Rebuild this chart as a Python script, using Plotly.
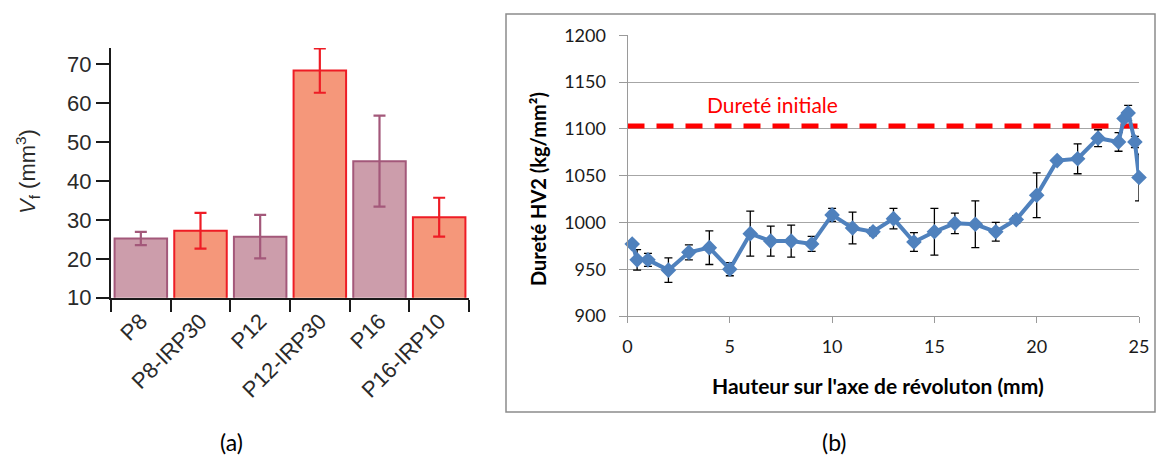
import plotly.graph_objects as go

# ---------------- data (a) ----------------
categories = ["P8", "P8-IRP30", "P12", "P12-IRP30", "P16", "P16-IRP10"]
vf_values = [25.2, 27.2, 25.7, 68.4, 45.1, 30.7]
vf_errors = [1.7, 4.6, 5.6, 5.7, 11.7, 5.0]
is_irp = [False, True, False, True, False, True]

# ---------------- data (b) ----------------
hauteur = [0.23, 0.47, 1.0, 2.0, 3.0, 4.0, 5.0, 6.0, 7.0, 8.0, 9.0, 10.0, 11.0, 12.0,
           13.0, 14.0, 15.0, 16.0, 17.0, 18.0, 19.0, 20.0, 21.0, 22.0, 23.0, 24.0,
           24.27, 24.47, 24.8, 25.0]
durete = [977, 960, 960, 949, 968, 973, 950, 988, 980, 980, 977, 1008, 994, 990,
          1004, 979, 990, 999, 998, 990, 1003, 1029, 1066, 1068, 1090, 1086,
          1111, 1117, 1086, 1048]
durete_err = [0, 11, 7, 13, 8, 18, 7, 24, 16, 17, 8, 7, 17, 4,
              11, 10, 25, 11, 25, 10, 4, 24, 3, 16, 9, 10,
              0, 8, 6, 25]
durete_initiale = 1103
x_range_b = [0, 25]
y_range_b = [900, 1200]
x_ticks_b = [0, 5, 10, 15, 20, 25]
y_ticks_b = [900, 950, 1000, 1050, 1100, 1150, 1200]

W, H = 1168, 456
def px(x): return x / W
def py(y): return 1 - y / H

MAUVE_FILL = "#CC9DAB"
MAUVE_LINE = "#A3587A"
ORANGE_FILL = "#F5977A"
RED_LINE = "#EE1C25"
BLUE = "#4F81BD"

fig = go.Figure()

idx_p = [i for i, f in enumerate(is_irp) if not f]
idx_i = [i for i, f in enumerate(is_irp) if f]

fig.add_trace(go.Bar(
    x=[categories[i] for i in idx_p], y=[vf_values[i] for i in idx_p],
    width=0.88,
    marker=dict(color=MAUVE_FILL, line=dict(color=MAUVE_LINE, width=2)),
    error_y=dict(type="data", array=[vf_errors[i] for i in idx_p], color=MAUVE_LINE,
                 thickness=2.2, width=6),
    xaxis="x", yaxis="y", showlegend=False))
fig.add_trace(go.Bar(
    x=[categories[i] for i in idx_i], y=[vf_values[i] for i in idx_i],
    width=0.88,
    marker=dict(color=ORANGE_FILL, line=dict(color=RED_LINE, width=2)),
    error_y=dict(type="data", array=[vf_errors[i] for i in idx_i], color=RED_LINE,
                 thickness=2.2, width=6),
    xaxis="x", yaxis="y", showlegend=False))

# (b) initial hardness dashed line
fig.add_trace(go.Scatter(
    x=x_range_b, y=[durete_initiale, durete_initiale], mode="lines",
    line=dict(color="#FF0000", width=5, dash="17px,12px"),
    xaxis="x2", yaxis="y2", showlegend=False, hoverinfo="skip"))

fig.add_trace(go.Scatter(
    x=hauteur, y=durete, mode="lines+markers",
    line=dict(color=BLUE, width=4),
    marker=dict(symbol="diamond", size=12, color=BLUE),
    error_y=dict(type="data", array=durete_err, color="#000000", thickness=1.3, width=4),
    xaxis="x2", yaxis="y2", showlegend=False, cliponaxis=False))

font_a = "Liberation Sans, Arial, sans-serif"
font_b = "Lato, Carlito, Calibri, sans-serif"

def note(text, x, y, font, angle=0):
    return dict(text=text, xref="paper", yref="paper", x=px(x), y=py(y),
                xanchor="center", yanchor="middle", textangle=angle,
                showarrow=False, font=font)

fig.update_layout(
    width=W, height=H,
    margin=dict(l=0, r=0, t=0, b=0, autoexpand=False),
    paper_bgcolor="white", plot_bgcolor="white",
    barmode="overlay",
    xaxis=dict(
        domain=[px(111), px(469)], anchor="y", automargin=False,
        type="category", categoryorder="array", categoryarray=categories,
        range=[-0.5, len(categories) - 0.5],
        showline=True, linecolor="#1a1a1a", linewidth=2,
        ticks="outside", tickson="boundaries", ticklen=12, tickwidth=2, tickcolor="#1a1a1a",
        tickangle=-45, tickfont=dict(family=font_a, size=22, color="#2a2a2a"),
        showgrid=False, zeroline=False,
    ),
    yaxis=dict(
        domain=[py(297.7), py(48)], anchor="x", automargin=False,
        range=[10, 74.2], tickvals=[10, 20, 30, 40, 50, 60, 70],
        showline=True, linecolor="#1a1a1a", linewidth=2,
        ticks="outside", ticklen=13, tickwidth=2, tickcolor="#1a1a1a",
        tickfont=dict(family=font_a, size=22, color="#2a2a2a"),
        showgrid=False, zeroline=False,
    ),
    xaxis2=dict(
        domain=[px(627.5), px(1139)], anchor="y2", automargin=False,
        range=x_range_b, tickvals=x_ticks_b,
        showline=True, linecolor="#9a9a9a", linewidth=1,
        ticks="outside", ticklen=6, tickcolor="#9a9a9a",
        tickfont=dict(family=font_b, size=18, color="#1a1a1a"),
        ticklabelstandoff=8,
        showgrid=False, zeroline=False,
    ),
    yaxis2=dict(
        domain=[py(316), py(35.2)], anchor="x2", automargin=False,
        range=y_range_b, tickvals=y_ticks_b,
        showline=True, linecolor="#9a9a9a", linewidth=1,
        ticks="outside", ticklen=8, tickcolor="#9a9a9a",
        tickfont=dict(family=font_b, size=18, color="#1a1a1a"),
        ticklabelstandoff=9,
        showgrid=True, gridcolor="#a6a6a6", gridwidth=1,
        zeroline=False,
    ),
    shapes=[dict(type="rect", xref="paper", yref="paper",
                 x0=px(506), x1=px(1155), y0=py(412), y1=py(14),
                 line=dict(color="#8c8c8c", width=1.5), fillcolor="rgba(0,0,0,0)",
                 layer="below")],
    annotations=[
        note("<i>V</i><sub>f</sub> (mm<sup>3</sup>)", 27, 172,
             dict(family=font_a, size=22, color="#2a2a2a"), -90),
        note("<b>Dureté HV2 (kg/mm²)</b>", 538, 189,
             dict(family=font_b, size=20, color="#000000"), -90),
        note("<b>Hauteur sur l'axe de révoluton (mm)</b>", 878, 385,
             dict(family=font_b, size=21, color="#000000")),
        note("Dureté initiale", 772, 104,
             dict(family=font_b, size=21, color="#FF0000")),
        note("(a)", 231, 442, dict(family=font_b, size=23, color="#000000")),
        note("(b)", 834, 442, dict(family=font_b, size=23, color="#000000")),
    ],
)

fig.write_html("out.html", config={"displayModeBar": False},
               post_script="document.body.style.margin='0';")
